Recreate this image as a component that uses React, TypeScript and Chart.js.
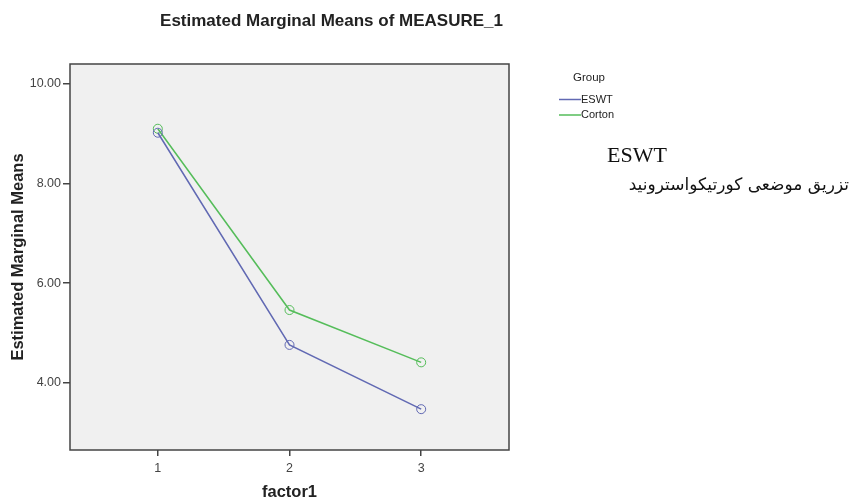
import React, { useEffect, useRef } from "react";
import { Chart, registerables } from "chart.js";

Chart.register(...registerables);

const FACTOR = [1, 2, 3];
const ESWT = [9.02, 4.76, 3.47];
const CORTON = [9.1, 5.46, 4.41];
const SERIES_LABELS = ["ESWT", "Corton"];
const SERIES_COLORS = ["#6169b3", "#55bd5a"];
const Y_TICKS = [4, 6, 8, 10];
const X_TICKS = [1, 2, 3];
const TITLE = "Estimated Marginal Means of MEASURE_1";
const LEGEND_TITLE = "Group";
const NOTE_LINES = ["ESWT", "تزریق موضعی کورتیکواسترونید"];

const FONT = "'Liberation Sans', Arial, sans-serif";

const framePlugin = {
  id: "frame",
  beforeDatasetsDraw(chart: any) {
    const { ctx, chartArea: a } = chart;
    ctx.save();
    ctx.fillStyle = "#f0f0f0";
    ctx.fillRect(a.left, a.top, a.right - a.left, a.bottom - a.top);
    ctx.restore();
  },
  afterDraw(chart: any) {
    const { ctx, chartArea: a } = chart;
    ctx.save();
    ctx.strokeStyle = "#444";
    ctx.lineWidth = 1.5;
    ctx.strokeRect(a.left, a.top, a.right - a.left, a.bottom - a.top);
    // title
    ctx.fillStyle = "#222";
    ctx.font = `bold 17px ${FONT}`;
    ctx.textAlign = "center";
    ctx.textBaseline = "middle";
    ctx.fillText(TITLE, (a.left + a.right) / 2 + 42, a.top - 43);
    // legend
    const x0 = a.right + 50;
    ctx.textAlign = "left";
    ctx.font = `11.5px ${FONT}`;
    ctx.fillText(LEGEND_TITLE, x0 + 14, a.top + 14);
    ctx.font = `11px ${FONT}`;
    chart.data.datasets.forEach((ds: any, i: number) => {
      const y = a.top + 35.5 + i * 15.5;
      ctx.strokeStyle = ds.borderColor;
      ctx.lineWidth = 1.5;
      ctx.beginPath();
      ctx.moveTo(x0, y);
      ctx.lineTo(x0 + 22, y);
      ctx.stroke();
      ctx.fillStyle = "#222";
      ctx.fillText(ds.label, x0 + 22, y);
    });
    ctx.restore();
  },
};

export default function App() {
  const ref = useRef<HTMLCanvasElement>(null);
  useEffect(() => {
    if (!ref.current) return;
    const seriesValues = [ESWT, CORTON];
    const chart = new Chart(ref.current, {
      type: "line",
      data: {
        datasets: SERIES_LABELS.map((label, i) => ({
          label,
          data: FACTOR.map((f, j) => ({ x: f, y: seriesValues[i][j] })),
          borderColor: SERIES_COLORS[i],
          backgroundColor: SERIES_COLORS[i],
          borderWidth: 1.5,
          pointRadius: 4.5,
          pointBorderWidth: 1,
          pointBackgroundColor: "rgba(0,0,0,0)",
          pointBorderColor: SERIES_COLORS[i],
          fill: false,
          tension: 0,
        })),
      },
      options: {
        animation: false,
        responsive: true,
        maintainAspectRatio: false,
        layout: { padding: { left: 5, right: 116, top: 64, bottom: 0 } },
        plugins: {
          legend: { display: false },
          tooltip: { enabled: false },
          title: { display: false },
        },
        scales: {
          x: {
            type: "linear",
            min: 0.333,
            max: 3.667,
            afterBuildTicks: (s: any) => {
              s.ticks = X_TICKS.map((v) => ({ value: v }));
            },
            afterFit: (s: any) => {
              s.height = 52;
            },
            grid: {
              drawOnChartArea: false,
              drawTicks: true,
              tickLength: 6,
              color: "#444",
              lineWidth: 1.5,
            },
            border: { display: false },
            ticks: {
              color: "#444",
              font: { family: FONT, size: 12.5 },
              padding: 5,
              callback: (v: any) => String(v),
            },
            title: {
              display: true,
              text: "factor1",
              color: "#222",
              font: { family: FONT, size: 16.5, weight: "bold" },
              padding: { top: 6, bottom: 0 },
            },
          },
          y: {
            type: "linear",
            min: 2.65,
            max: 10.4,
            afterBuildTicks: (s: any) => {
              s.ticks = Y_TICKS.map((v) => ({ value: v }));
            },
            afterFit: (s: any) => {
              s.width = 65;
            },
            grid: {
              drawOnChartArea: false,
              drawTicks: true,
              tickLength: 7,
              color: "#444",
              lineWidth: 1.5,
            },
            border: { display: false },
            ticks: {
              color: "#444",
              font: { family: FONT, size: 12.5 },
              padding: 2,
              callback: (v: any) => Number(v).toFixed(2),
            },
            title: {
              display: true,
              text: "Estimated Marginal Means",
              color: "#222",
              font: { family: FONT, size: 16.5, weight: "bold" },
              padding: { top: 4, bottom: 4 },
            },
          },
        },
      },
      plugins: [framePlugin],
    });
    return () => chart.destroy();
  }, []);

  return (
    <div style={{ position: "absolute", left: 0, top: 0, width: 849, height: 502, background: "#fff", overflow: "hidden" }}>
      <div style={{ position: "absolute", left: 0, top: 0, width: 625, height: 502 }}>
        <canvas ref={ref} />
      </div>
      <div
        style={{
          position: "absolute",
          left: 607,
          top: 142,
          fontFamily: "'Liberation Serif', 'Times New Roman', serif",
          fontSize: 22,
          color: "#111",
          lineHeight: "26px",
        }}
      >
        {NOTE_LINES[0]}
      </div>
      <div
        dir="rtl"
        style={{
          position: "absolute",
          right: 0,
          top: 172,
          width: 260,
          textAlign: "right",
          fontFamily: "'DejaVu Sans', 'Noto Sans', serif",
          fontSize: 17,
          color: "#111",
          lineHeight: "24px",
          whiteSpace: "nowrap",
        }}
      >
        {NOTE_LINES[1]}
      </div>
    </div>
  );
}
